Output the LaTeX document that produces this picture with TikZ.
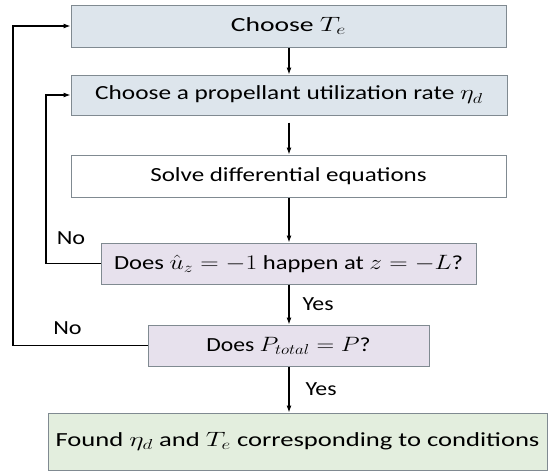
\documentclass[tikz,border=0pt]{standalone}
\usepackage{fontspec}
\setmainfont{Carlito}
\usetikzlibrary{arrows.meta}
\definecolor{bluefill}{RGB}{221,229,236}
\definecolor{lavfill}{RGB}{231,225,237}
\definecolor{greenfill}{RGB}{227,238,222}
\definecolor{edgegrey}{RGB}{128,138,145}
\newcommand\widetxt[2][1.22]{\scalebox{#1}[1]{#2}}
\begin{document}
\begin{tikzpicture}[x=1pt,y=-1pt,
  box/.style={draw=edgegrey, line width=1pt, inner sep=0pt, font=\fontsize{20}{24}\selectfont},
  conn/.style={line width=1.1pt, -{Latex[length=7pt,width=5pt]}},
  lbl/.style={font=\fontsize{20}{24}\selectfont, inner sep=0pt}]
\useasboundingbox (0,0) rectangle (548,472);
\node[box, fill=bluefill, minimum width=435pt, minimum height=42pt] (b1) at (288.5,26) {\widetxt[1.38]{Choose $T_e$}};
\node[box, fill=bluefill, minimum width=436pt, minimum height=40pt] (b2) at (289,95) {\widetxt[1.265]{Choose a propellant utilization rate $\eta_d$}};
\node[box, fill=white, minimum width=435pt, minimum height=42pt] (b3) at (288.5,176) {\widetxt[1.25]{Solve differential equations}};
\node[box, fill=lavfill, minimum width=375pt, minimum height=41pt] (b4) at (288.5,263.5) {\widetxt[1.23]{Does $\hat{u}_z=-1$ happen at $z=-L$?}};
\node[box, fill=lavfill, minimum width=281pt, minimum height=41pt] (b5) at (288.5,345.5) {\widetxt[1.18]{Does $P_{total}=P$?}};
\node[box, fill=greenfill, minimum width=499pt, minimum height=57pt] (b6) at (297.5,441.5) {\widetxt[1.33]{Found $\eta_d$ and $T_e$ corresponding to conditions}};
\coordinate (c1) at (13,345.5);
\coordinate (c2) at (13,26);
\coordinate (c3) at (46,263.5);
\coordinate (c4) at (46,95);
\draw[conn] (b1.south -| 289,0) -- (b2.north -| 289,0);
\draw[conn, shorten <=7pt] (b2.south -| 289,0) -- (b3.north -| 289,0);
\draw[conn] (b3.south -| 289,0) -- (b4.north -| 289,0);
\draw[conn] (b4.south -| 289,0) -- node[lbl, anchor=west, xshift=13pt]{\widetxt[1.19]{Yes}} (b5.north -| 289,0);
\draw[conn] (b5.south -| 289,0) -- node[lbl, anchor=west, xshift=16pt]{\widetxt[1.19]{Yes}} (b6.north -| 289,0);
\draw[conn] (b5.west) -- (c1) -- (c2) -- (b1.west);
\draw[conn] (b4.west) -- (c3) -- (c4) -- (b2.west);
\node[lbl] (no1) at (71,238) {\widetxt[1.21]{No}};
\node[lbl] (no2) at (67.5,328) {\widetxt[1.21]{No}};
\end{tikzpicture}
\end{document}
